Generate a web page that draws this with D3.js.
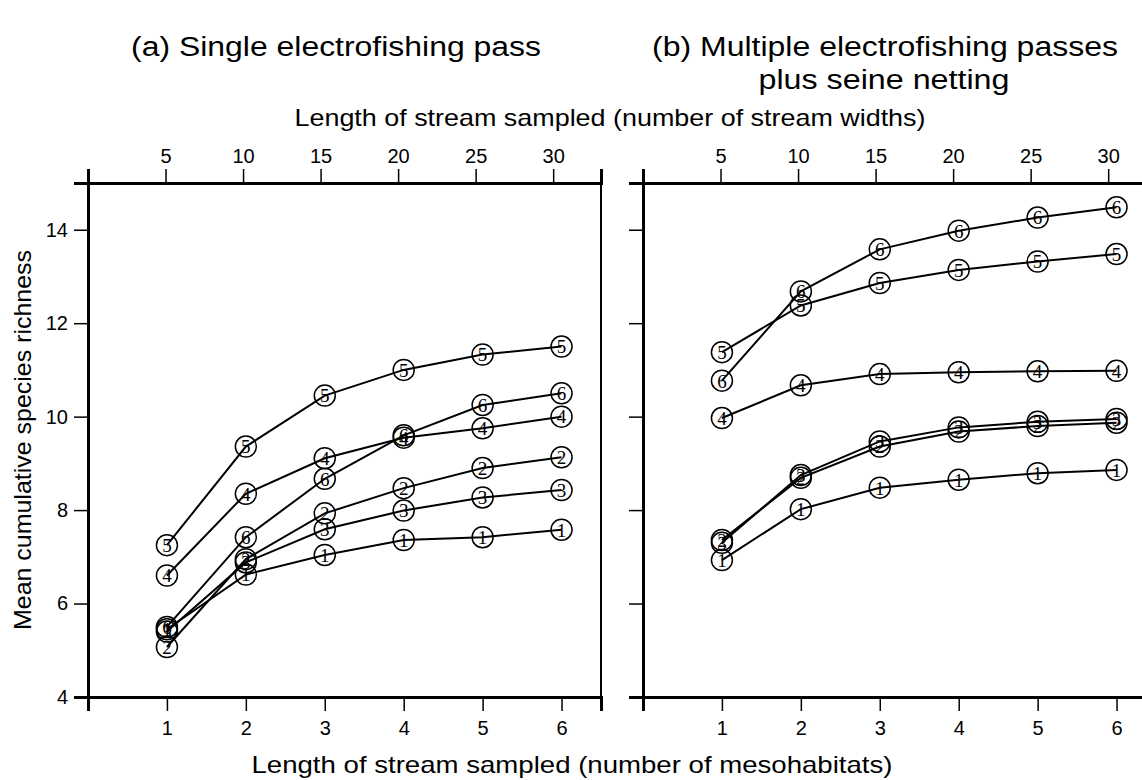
<!DOCTYPE html>
<html>
<head>
<meta charset="utf-8">
<script src="https://cdn.jsdelivr.net/npm/d3@7"></script>
<style>
  body { margin: 0; background: #fff; }
  svg { display: block; font-family: "Liberation Sans", Arial, sans-serif; }
  .axis path, .axis line { stroke: #000; }
</style>
</head>
<body>
<div id="chart"></div>
<script>
// mesohabitats sampled (bottom axis) and stream widths ticks (top axis)
var mesohabitats = [1, 2, 3, 4, 5, 6];
var widthTicks = [0, 5, 10, 15, 20, 25, 30];
var yTicks = [4, 6, 8, 10, 12, 14];
var seriesNames = ["1", "2", "3", "4", "5", "6"];

// (a) single electrofishing pass
var single1 = [5.45, 6.62, 7.04, 7.36, 7.42, 7.58];
var single2 = [5.07, 6.95, 7.93, 8.47, 8.90, 9.13];
var single3 = [5.40, 6.88, 7.59, 7.99, 8.27, 8.43];
var single4 = [6.60, 8.35, 9.11, 9.55, 9.75, 10.00];
var single5 = [7.25, 9.36, 10.45, 11.00, 11.33, 11.50];
var single6 = [5.50, 7.42, 8.67, 9.60, 10.25, 10.50];

// (b) multiple passes plus seine netting
var multi1 = [6.93, 8.02, 8.48, 8.65, 8.79, 8.86];
var multi2 = [7.36, 8.69, 9.36, 9.68, 9.80, 9.87];
var multi3 = [7.30, 8.75, 9.47, 9.77, 9.89, 9.95];
var multi4 = [9.97, 10.67, 10.91, 10.95, 10.97, 10.98];
var multi5 = [11.38, 12.38, 12.86, 13.14, 13.32, 13.48];
var multi6 = [10.77, 12.68, 13.58, 13.98, 14.26, 14.48];

var singleData = [single1, single2, single3, single4, single5, single6];
var multiData = [multi1, multi2, multi3, multi4, multi5, multi6];

var width = 1142, height = 780;
var top0 = 183, bottom0 = 697;
var panelW = 513;

var svg = d3.select("#chart").append("svg")
    .attr("width", width)
    .attr("height", height);

var y = d3.scaleLinear().domain([4, 15]).range([bottom0, top0]);

function styleAxis(a) {
  a.select(".domain").attr("stroke-width", 3);
  a.selectAll(".tick line").attr("stroke-width", 1.5);
  a.selectAll("text")
    .style("font-size", "20px")
    .style("font-family", "'Liberation Sans', Arial, sans-serif")
    .attr("fill", "#000");
}

function drawPanel(left, data, showY) {
  var x = d3.scaleLinear().domain([0, 6.5]).range([left, left + panelW]);
  var xTop = d3.scaleLinear().domain([0, 6.5 * 5.09]).range([left, left + panelW]);

  var g = svg.append("g");

  // box
  g.append("rect")
    .attr("x", left).attr("y", top0)
    .attr("width", panelW).attr("height", bottom0 - top0)
    .attr("fill", "none").attr("stroke", "#000").attr("stroke-width", 2);

  // top axis (stream widths)
  var ta = g.append("g").attr("class", "axis")
    .attr("transform", "translate(0," + top0 + ")")
    .call(d3.axisTop(xTop).tickValues(widthTicks).tickSize(14).tickPadding(6)
      .tickFormat(function(d) { return d === 0 ? "" : d; }));
  styleAxis(ta);

  // bottom axis (mesohabitats)
  var ba = g.append("g").attr("class", "axis")
    .attr("transform", "translate(0," + bottom0 + ")")
    .call(d3.axisBottom(x).tickValues([0].concat(mesohabitats)).tickSize(14).tickPadding(10)
      .tickFormat(function(d) { return d === 0 ? "" : d; }));
  styleAxis(ba);

  // left axis
  var la = g.append("g").attr("class", "axis")
    .attr("transform", "translate(" + left + ",0)")
    .call(d3.axisLeft(y).tickValues(yTicks).tickSize(14).tickPadding(6)
      .tickFormat(function(d) { return showY ? d : ""; }));
  styleAxis(la);

  var line = d3.line()
    .x(function(d, i) { return x(mesohabitats[i]); })
    .y(function(d) { return y(d); });

  data.forEach(function(vals, s) {
    g.append("path")
      .attr("d", line(vals))
      .attr("fill", "none")
      .attr("stroke", "#000")
      .attr("stroke-width", 2);

    var pts = g.selectAll(".pt" + s)
      .data(vals)
      .enter().append("g")
      .attr("transform", function(d, i) { return "translate(" + x(mesohabitats[i]) + "," + y(d) + ")"; });

    pts.append("circle")
      .attr("r", 10.5)
      .attr("fill", "none")
      .attr("stroke", "#000")
      .attr("stroke-width", 1.5);

    pts.append("text")
      .attr("text-anchor", "middle")
      .attr("dy", "0.36em")
      .style("font-family", "'Liberation Serif', 'DejaVu Serif', serif")
      .style("font-size", "19px")
      .text(seriesNames[s]);
  });
}

drawPanel(88, singleData, true);
drawPanel(643, multiData, false);

// titles
function label(x, yy, size, len, txt) {
  return svg.append("text").attr("x", x).attr("y", yy).attr("text-anchor", "middle")
    .attr("textLength", len).attr("lengthAdjust", "spacingAndGlyphs")
    .style("font-size", size + "px").text(txt);
}

label(336, 56, 27, 410, "(a) Single electrofishing pass");
label(885, 56, 27, 466, "(b) Multiple electrofishing passes");
label(884, 89, 27, 251, "plus seine netting");

label(610, 126, 24, 631, "Length of stream sampled (number of stream widths)");
label(572, 773, 24, 641, "Length of stream sampled (number of mesohabitats)");

svg.append("text")
  .attr("transform", "translate(31,440) rotate(-90)")
  .attr("text-anchor", "middle")
  .attr("textLength", 380).attr("lengthAdjust", "spacingAndGlyphs")
  .style("font-size", "24px")
  .text("Mean cumulative species richness");
</script>
</body>
</html>
